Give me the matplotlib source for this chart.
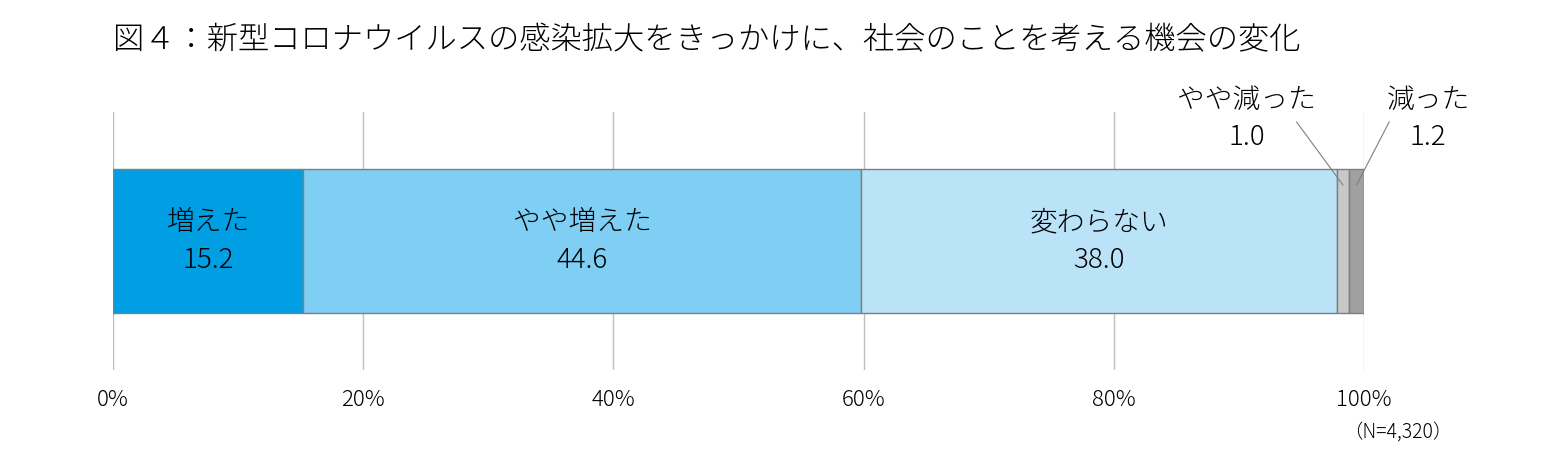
import matplotlib.pyplot as plt

plt.rcParams['font.family'] = ['Noto Sans CJK JP', 'DejaVu Sans']

# data
categories = ['増えた', 'やや増えた', '変わらない', 'やや減った', '減った']
values = [15.2, 44.6, 38.0, 1.0, 1.2]
colors = ['#009fe3', '#7fcef4', '#bae3f8', '#c8c8c8', '#a0a0a0']
ticks = [0, 20, 40, 60, 80, 100]
tick_labels = ['0%', '20%', '40%', '60%', '80%', '100%']
title = '図４：新型コロナウイルスの感染拡大をきっかけに、社会のことを考える機会の変化'
note = '（N=4,320）'

fig = plt.figure(figsize=(15.59, 4.71), dpi=100)
ax = fig.add_axes([0.0725, 0.2144, 0.8025, 0.548])

left = 0
for cat, val, col in zip(categories, values, colors):
    ax.barh(0.5, val, left=left, height=0.56, color=col,
            edgecolor='#7f7f7f', linewidth=1, zorder=3)
    if val > 5:
        ax.text(left + val / 2, 0.5, f'{cat}\n{val:.1f}', ha='center', va='center',
                fontsize=20, linespacing=1.45, fontweight='light', zorder=4)
    left += val

# small segments: labels above with leader lines
small = [(3, 90.6, 94.6), (4, 105.1, 102.0)]
starts = [sum(values[:i]) for i in range(len(values))]
for i, tx, lx in small:
    mid = starts[i] + values[i] / 2
    ax.text(tx, 1.047, categories[i], ha='center', va='center', fontsize=20,
            fontweight='light', clip_on=False)
    ax.text(tx, 0.903, f'{values[i]:.1f}', ha='center', va='center', fontsize=20,
            fontweight='light', clip_on=False)
    ax.plot([lx, mid], [0.961, 0.717], color='#7f7f7f', linewidth=0.8, zorder=5, clip_on=False)

ax.set_xlim(0, 100)
ax.set_ylim(0, 1)
ax.set_xticks(ticks)
ax.set_xticklabels(tick_labels, fontsize=16, fontweight='light')
ax.set_yticks([])
ax.tick_params(axis='x', length=0, pad=14)
ax.grid(axis='x', color='#bfbfbf', linewidth=1, zorder=0)
for s in ax.spines.values():
    s.set_visible(False)

fig.text(0.0725, 0.915, title, fontsize=22.5, ha='left', va='center', fontweight='light')
fig.text(0.932, 0.08, note, fontsize=14, ha='right', va='center', fontweight='light')

fig.savefig('out.png', dpi=100)
